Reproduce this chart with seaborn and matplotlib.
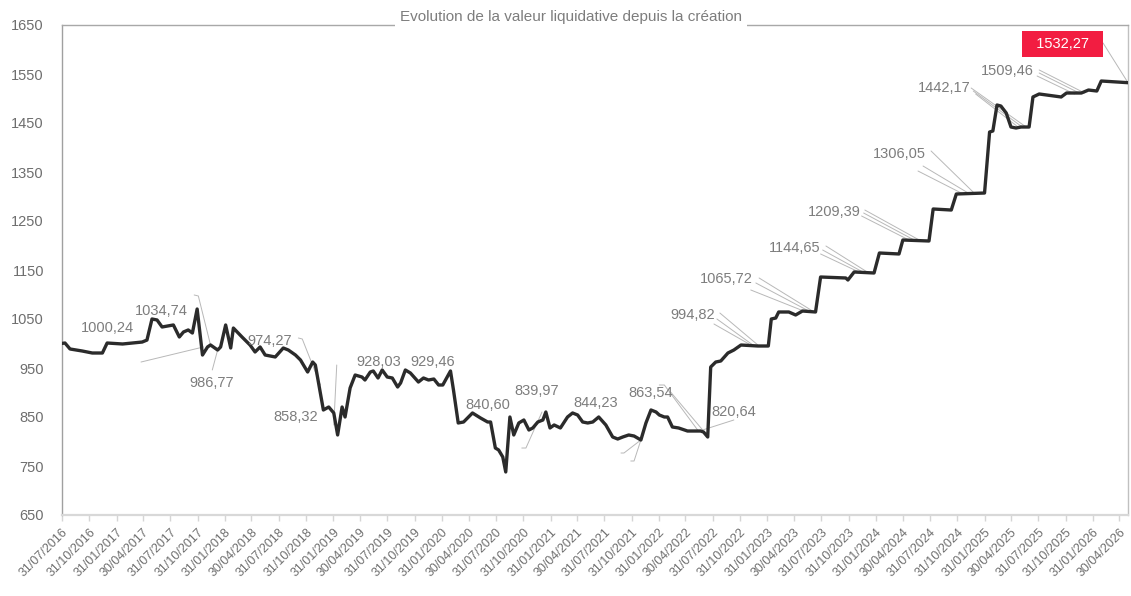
import pandas as pd
import numpy as np
import matplotlib
matplotlib.use("Agg")
import matplotlib.pyplot as plt
import seaborn as sns

# NAV series
nav_dates = [
    "2016-07-31", "2016-08-10", "2016-08-27", "2016-10-07", "2016-11-10", "2016-12-14",
    "2016-12-30", "2017-02-20", "2017-04-27", "2017-05-13", "2017-05-30", "2017-06-16",
    "2017-07-03", "2017-08-10", "2017-08-30", "2017-09-13", "2017-09-29", "2017-10-13",
    "2017-10-29", "2017-11-16", "2017-12-03", "2017-12-13", "2018-01-06", "2018-01-16",
    "2018-02-02", "2018-02-19", "2018-02-28", "2018-03-29", "2018-04-25", "2018-05-12",
    "2018-05-29", "2018-06-15", "2018-07-19", "2018-08-15", "2018-09-01", "2018-09-25",
    "2018-10-12", "2018-11-05", "2018-11-22", "2018-12-01", "2018-12-28", "2019-01-15",
    "2019-02-01", "2019-02-14", "2019-03-01", "2019-03-11", "2019-03-28", "2019-04-14",
    "2019-05-07", "2019-05-17", "2019-06-04", "2019-06-14", "2019-06-30", "2019-07-14",
    "2019-07-31", "2019-08-17", "2019-09-04", "2019-09-14", "2019-09-30", "2019-10-17",
    "2019-11-13", "2019-11-30", "2019-12-17", "2020-01-04", "2020-01-20", "2020-02-03",
    "2020-02-29", "2020-03-10", "2020-03-26", "2020-04-13", "2020-05-13", "2020-06-09",
    "2020-07-03", "2020-07-13", "2020-07-29", "2020-08-09", "2020-08-23", "2020-09-02",
    "2020-09-16", "2020-09-29", "2020-10-16", "2020-11-02", "2020-11-19", "2020-12-02",
    "2020-12-19", "2021-01-05", "2021-01-15", "2021-01-29", "2021-02-12", "2021-03-05",
    "2021-03-29", "2021-04-15", "2021-05-02", "2021-05-19", "2021-06-05", "2021-06-22",
    "2021-07-12", "2021-08-05", "2021-08-28", "2021-09-14", "2021-10-01", "2021-10-21",
    "2021-11-08", "2021-12-01", "2021-12-18", "2022-01-04", "2022-01-21", "2022-02-01",
    "2022-02-18", "2022-03-01", "2022-03-17", "2022-04-07", "2022-05-07", "2022-06-20",
    "2022-06-30", "2022-07-14", "2022-07-24", "2022-08-10", "2022-08-27", "2022-09-20",
    "2022-10-10", "2022-11-03", "2022-12-30", "2023-02-03", "2023-02-13", "2023-02-28",
    "2023-03-10", "2023-04-13", "2023-05-06", "2023-05-29", "2023-07-12", "2023-07-29",
    "2023-10-22", "2023-10-29", "2023-11-19", "2024-01-25", "2024-02-12", "2024-04-18",
    "2024-05-01", "2024-07-28", "2024-08-11", "2024-10-11", "2024-10-28", "2025-01-31",
    "2025-02-17", "2025-02-28", "2025-03-14", "2025-03-27", "2025-04-14", "2025-04-30",
    "2025-05-17", "2025-06-03", "2025-06-30", "2025-07-13", "2025-08-03", "2025-10-16",
    "2025-11-03", "2025-12-23", "2026-01-16", "2026-02-13", "2026-02-28", "2026-05-29",
]
nav_values = [
    1000.2, 1001.0, 988.8, 984.7, 980.6, 980.6,
    1001.0, 999.0, 1003.0, 1007.0, 1050.0, 1048.0,
    1033.7, 1037.8, 1013.3, 1023.5, 1027.6, 1021.4,
    1070.4, 976.5, 992.9, 997.0, 986.7, 992.9,
    1037.8, 990.8, 1031.6, 1013.3, 997.0, 982.7,
    992.9, 976.5, 972.5, 990.8, 986.7, 976.5,
    966.3, 941.8, 962.2, 956.1, 864.3, 870.4,
    858.2, 813.3, 870.4, 850.0, 909.2, 935.7,
    931.6, 925.5, 941.8, 943.9, 929.6, 945.9,
    931.6, 929.6, 911.2, 919.4, 945.9, 939.8,
    921.4, 929.6, 925.5, 927.5, 915.3, 915.3,
    943.9, 905.1, 837.8, 839.8, 858.2, 848.0,
    839.8, 839.8, 786.7, 782.7, 768.4, 737.8,
    850.0, 813.3, 837.8, 843.9, 823.5, 827.6,
    839.8, 843.9, 860.2, 827.6, 833.7, 827.6,
    850.0, 858.2, 854.1, 839.8, 837.8, 839.8,
    850.0, 833.7, 809.2, 805.1, 809.2, 813.3,
    811.2, 803.1, 837.8, 864.3, 860.2, 854.1,
    850.0, 850.0, 829.6, 827.6, 821.4, 821.4,
    819.4, 809.2, 952.0, 962.2, 964.3, 980.6,
    986.7, 996.9, 994.9, 994.9, 1050.0, 1052.0,
    1064.3, 1064.3, 1058.2, 1066.3, 1064.3, 1135.7,
    1133.7, 1129.6, 1145.9, 1143.9, 1184.7, 1182.7,
    1211.2, 1209.2, 1274.5, 1272.4, 1305.1, 1307.1,
    1431.6, 1433.7, 1486.7, 1484.7, 1470.4, 1441.8,
    1439.8, 1441.8, 1441.8, 1503.1, 1509.2, 1503.1,
    1511.2, 1511.2, 1517.3, 1515.3, 1535.7, 1532.27,
]

# value labels (text centre in data coords)
label_texts = ["1000,24", "1034,74", "986,77", "974,27", "858,32", "928,03", "929,46",
               "840,60", "839,97", "844,23", "863,54", "820,64", "994,82", "1065,72",
               "1144,65", "1209,39", "1306,05", "1442,17", "1509,46"]
label_dates = ["2016-12-30", "2017-06-29", "2017-12-16", "2018-07-01", "2018-09-25",
               "2019-07-01", "2019-12-30", "2020-07-03", "2020-12-15", "2021-07-02",
               "2022-01-04", "2022-10-10", "2022-05-24", "2022-09-16", "2023-05-03",
               "2023-09-12", "2024-04-18", "2024-09-18", "2025-04-17"]
label_values = [1031.6, 1066.3, 919.4, 1005.1, 850.0, 962.2, 962.2,
                874.5, 903.1, 878.6, 899.0, 860.2, 1058.2, 1131.6,
                1194.9, 1268.4, 1386.7, 1521.4, 1556.1]

last_text = "1532,27"
last_label_date = "2025-10-20"
last_label_value = 1611.2

# thin leader lines
leaders = [
    [("2017-04-23", 962.2), ("2017-11-19", 992.9)],
    [("2017-10-19", 1099.0), ("2017-11-02", 1097.0), ("2017-12-13", 997.0)],
    [("2017-12-19", 946.0), ("2018-01-06", 986.7)],
    [("2018-10-05", 1011.2), ("2018-10-18", 1009.2), ("2018-12-18", 915.3)],
    [("2019-02-11", 956.1), ("2019-02-01", 833.7)],
    [("2020-10-26", 786.7), ("2020-11-09", 786.7), ("2021-01-02", 860.2)],
    [("2022-02-01", 915.3), ("2022-02-18", 915.3), ("2022-06-10", 823.5)],
    [("2022-03-11", 901.0), ("2022-06-27", 823.5)],
    [("2021-09-25", 776.5), ("2021-10-05", 776.5), ("2021-12-01", 803.1)],
    [("2021-10-28", 760.2), ("2021-11-08", 760.2), ("2021-12-01", 803.1)],
    [("2022-06-27", 823.5), ("2022-10-10", 843.9)],
    [("2022-08-24", 1062.2), ("2022-12-30", 996.9)],
    [("2022-08-14", 1050.0), ("2022-12-13", 996.9)],
    [("2022-08-04", 1039.8), ("2022-11-30", 999.0)],
    [("2023-01-03", 1133.7), ("2023-07-02", 1066.3)],
    [("2022-12-23", 1123.5), ("2023-06-19", 1066.3)],
    [("2022-12-06", 1109.2), ("2023-06-02", 1066.3)],
    [("2023-08-16", 1199.0), ("2024-01-02", 1145.9)],
    [("2023-08-05", 1190.8), ("2023-12-18", 1145.9)],
    [("2023-07-29", 1182.7), ("2023-12-05", 1145.9)],
    [("2023-12-25", 1272.4), ("2024-07-01", 1209.2)],
    [("2023-12-21", 1266.3), ("2024-06-14", 1209.2)],
    [("2023-12-14", 1260.2), ("2024-05-28", 1209.2)],
    [("2024-08-04", 1392.9), ("2024-12-27", 1307.1)],
    [("2024-07-08", 1362.2), ("2024-12-07", 1307.1)],
    [("2024-06-21", 1352.0), ("2024-11-20", 1305.1)],
    [("2024-12-17", 1521.4), ("2025-06-20", 1441.8)],
    [("2024-12-24", 1515.3), ("2025-06-07", 1441.8)],
    [("2025-01-01", 1509.2), ("2025-05-24", 1441.8)],
    [("2025-08-03", 1558.2), ("2026-01-03", 1511.2)],
    [("2025-08-03", 1552.0), ("2025-12-16", 1511.2)],
    [("2025-07-27", 1545.9), ("2025-11-30", 1509.2)],
    [("2026-03-06", 1613.3), ("2026-05-29", 1532.27)],
]

title = "Evolution de la valeur liquidative depuis la création"
y_ticks = [650, 750, 850, 950, 1050, 1150, 1250, 1350, 1450, 1550, 1650]
tick_dates = pd.date_range("2016-07-31", "2026-04-30",
                           freq=pd.offsets.QuarterEnd(startingMonth=1))
tick_labels = [d.strftime("%d/%m/%Y") for d in tick_dates]

sns.set_theme(style="white")
plt.rcParams["font.family"] = ["Liberation Sans", "DejaVu Sans"]

df = pd.DataFrame({"date": pd.to_datetime(nav_dates), "nav": nav_values})

fig = plt.figure(figsize=(11.31, 5.96), dpi=100)
ax = fig.add_axes([62 / 1131, 81 / 596, 1066 / 1131, 490 / 596])

for pts in leaders:
    ax.plot(pd.to_datetime([p[0] for p in pts]), [p[1] for p in pts],
            color="#b8b8b8", lw=0.7, zorder=1)

sns.lineplot(data=df, x="date", y="nav", ax=ax, color="#2b2b2b", lw=2.4,
             errorbar=None, zorder=3)

for t, d, v in zip(label_texts, label_dates, label_values):
    ax.text(pd.Timestamp(d), v, t, ha="center", va="center", fontsize=10.5,
            color="#7d7d7d", zorder=4)

ax.text(pd.Timestamp(last_label_date), last_label_value, "  " + last_text + "  ",
        ha="center", va="center", fontsize=10.5, color="white", zorder=5,
        bbox=dict(boxstyle="square,pad=0.42", fc="#f21d41", ec="none"))

ax.set_xlim(df["date"].iloc[0], df["date"].iloc[-1])
ax.set_ylim(650, 1650)
ax.set_yticks(y_ticks)
ax.set_yticklabels([str(v) for v in y_ticks])
ax.set_xticks(tick_dates)
ax.set_xticklabels(tick_labels, rotation=45, ha="right", rotation_mode="anchor")
ax.set_xlabel("")
ax.set_ylabel("")

ax.tick_params(axis="y", length=0, pad=13, labelsize=10.5, labelcolor="#6e6e6e")
ax.tick_params(axis="x", length=4, width=1, color="#d5d5d5", pad=4,
               labelsize=9, labelcolor="#6e6e6e", bottom=True)

ax.spines["left"].set_color("#a0a0a0")
ax.spines["top"].set_color("#a8a8a8")
ax.spines["right"].set_color("#c0c0c0")
ax.spines["bottom"].set_color("#d8d8d8")
ax.spines["bottom"].set_linewidth(1.6)
for s in ["left", "top", "right"]:
    ax.spines[s].set_linewidth(1.0)

# title sits on the top frame line, a bit left of centre
ax.text((571 - 62) / 1066, 1 + 8.5 / 490, title, transform=ax.transAxes,
        ha="center", va="center", fontsize=11, color="#7d7d7d", zorder=6,
        bbox=dict(boxstyle="square,pad=0.3", fc="white", ec="none"))

fig.savefig("out.png", dpi=100)
